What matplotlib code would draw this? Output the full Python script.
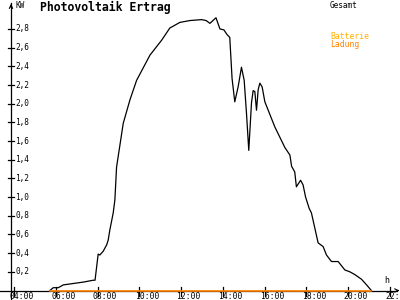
import matplotlib
matplotlib.use("Agg")
import matplotlib.pyplot as plt

# Ertrag Photovoltaik, Uhrzeit in Stunden, Leistung in kW
pv_stunde = [5.72, 5.88, 6.12, 6.36, 6.68, 7.32, 7.79, 7.88, 8.03, 8.11, 8.27, 8.44,
             8.51, 8.59, 8.75, 8.83, 8.91, 9.23, 9.55, 9.87, 10.51, 11.07, 11.46,
             11.94, 12.42, 12.98, 13.2, 13.38, 13.67, 13.86, 14.05, 14.2, 14.33,
             14.44, 14.57, 14.73, 14.89, 15.02, 15.13, 15.24, 15.37, 15.45, 15.53,
             15.61, 15.69, 15.77, 15.88, 16.01, 16.49, 16.73, 16.97, 17.21, 17.29,
             17.44, 17.52, 17.72, 17.84, 17.96, 18.13, 18.24, 18.56, 18.80, 18.96,
             19.20, 19.52, 19.84, 20.08, 20.32, 20.64, 20.88, 21.11]
pv_kw = [0.0, 0.03, 0.03, 0.06, 0.07, 0.09, 0.11, 0.11, 0.39, 0.38, 0.42, 0.49,
         0.54, 0.65, 0.83, 0.97, 1.32, 1.79, 2.04, 2.25, 2.52, 2.68, 2.81,
         2.87, 2.89, 2.90, 2.89, 2.86, 2.92, 2.80, 2.79, 2.74, 2.71,
         2.27, 2.02, 2.18, 2.39, 2.25, 1.90, 1.50, 2.01, 2.14, 2.13,
         1.93, 2.15, 2.22, 2.18, 2.02, 1.75, 1.64, 1.53, 1.45, 1.33,
         1.27, 1.11, 1.18, 1.13, 1.00, 0.88, 0.83, 0.51, 0.47, 0.38,
         0.31, 0.31, 0.22, 0.20, 0.17, 0.12, 0.06, 0.0]

# Batterie Ladung (ueberall 0)
lade_stunde = [5.72, 21.11]
lade_kw = [0.0, 0.0]

y_ticks = [0.2, 0.4, 0.6, 0.8, 1.0, 1.2, 1.4, 1.6, 1.8, 2.0, 2.2, 2.4, 2.6, 2.8]
x_ticks = [4, 6, 8, 10, 12, 14, 16, 18, 20, 22]

FONT = "DejaVu Sans Mono"
ORANGE = "#ff8000"
AMBER = "#ffb000"

fig = plt.figure(figsize=(4, 3), dpi=100)
ax = fig.add_axes([0, 0, 1, 1])
ax.set_xlim(3.33, 22.48)
ax.set_ylim(-0.1017, 3.110)
ax.axis("off")

# Achsen
ax.plot([3.857, 3.857], [-0.1017, 3.08], color="black", lw=0.9)
ax.plot([3.33, 22.36], [0, 0], color="black", lw=0.9)
ax.annotate("", xy=(3.857, 3.10), xytext=(3.857, 3.0),
            arrowprops=dict(arrowstyle="->,head_length=0.25,head_width=0.12", color="black", lw=0.8))
ax.annotate("", xy=(22.45, 0), xytext=(22.2, 0),
            arrowprops=dict(arrowstyle="->,head_length=0.25,head_width=0.12", color="black", lw=0.8))

for t in y_ticks:
    ax.plot([3.71, 4.0], [t, t], color="black", lw=0.9)
    ax.text(4.05, t, ("%.1f" % t).replace(".", ","), fontsize=5.6, family=FONT,
            va="center", ha="left")

for t in x_ticks:
    ax.plot([t, t], [0.037, -0.059], color="black", lw=0.9)
    ax.text(t - 0.22, -0.065, "%02d:00" % t, fontsize=5.8, family=FONT,
            va="center", ha="left")

# Kurven
ax.plot(pv_stunde, pv_kw, color="black", lw=0.9, zorder=3)
ax.plot(lade_stunde, lade_kw, color=ORANGE, lw=1.2, zorder=4)

# Texte
fig.text(40 / 400, 1 - 1 / 300, "Photovoltaik Ertrag", fontsize=8.3, family=FONT,
         weight="bold", va="top", ha="left")
fig.text(15 / 400, 1 - 1 / 300, "KW", fontsize=5.6, family=FONT, va="top", ha="left")
fig.text(384 / 400, 1 - 276 / 300, "h", fontsize=6, family=FONT, va="top", ha="left")
fig.text(330 / 400, 1 - 1 / 300, "Gesamt", fontsize=5.6, family=FONT, va="top", ha="left")
fig.text(330 / 400, 1 - 32 / 300, "Batterie", fontsize=5.8, family=FONT, color=AMBER,
         va="top", ha="left")
fig.text(330 / 400, 1 - 40 / 300, "Ladung", fontsize=5.8, family=FONT, color=ORANGE,
         va="top", ha="left")

fig.savefig("out.png", dpi=100, facecolor="white")
